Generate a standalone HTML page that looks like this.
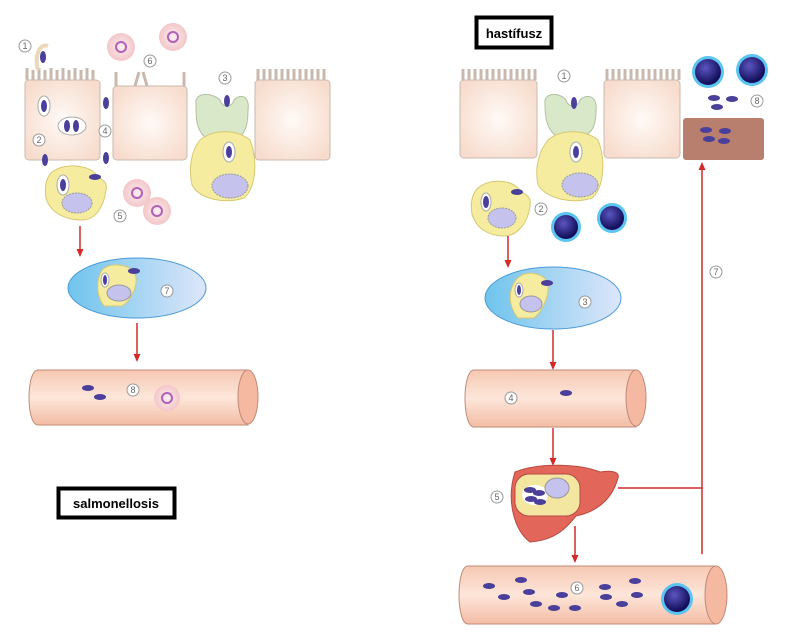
<!DOCTYPE html>
<html><head><meta charset="utf-8"><style>
body{margin:0;background:#fff;width:796px;height:636px;overflow:hidden}
svg{display:block}
text{font-family:"Liberation Sans",sans-serif}
.n{font-size:9px;fill:#666;text-anchor:middle}
.nc{fill:#fff;stroke:#999;stroke-width:1}
.bac{fill:#4a3f9a}
</style></head><body>
<svg width="796" height="636" viewBox="0 0 796 636">
<defs>
<radialGradient id="epi" cx="0.5" cy="0.5" r="0.6"><stop offset="0" stop-color="#fffaf7"/><stop offset="1" stop-color="#f7dccd"/></radialGradient>
<radialGradient id="neu" cx="0.5" cy="0.5" r="0.5"><stop offset="0" stop-color="#fbeef0"/><stop offset="1" stop-color="#f3c6c8"/></radialGradient>
<linearGradient id="lymph" x1="0" x2="1"><stop offset="0" stop-color="#6fc4ec"/><stop offset="1" stop-color="#dde6fa"/></linearGradient>
<linearGradient id="tube" x1="0" y1="0" x2="0" y2="1"><stop offset="0" stop-color="#f6c8b2"/><stop offset="0.5" stop-color="#fde6da"/><stop offset="1" stop-color="#f3bca4"/></linearGradient>
<radialGradient id="sph" cx="0.4" cy="0.35" r="0.6"><stop offset="0" stop-color="#5b56c0"/><stop offset="1" stop-color="#140f5c"/></radialGradient>
<marker id="ar" markerUnits="userSpaceOnUse" markerWidth="8" markerHeight="8" refX="6" refY="4" orient="auto"><path d="M0,0.5 L8,4 L0,7.5 z" fill="#d42a2a"/></marker>
</defs>

<!-- LEFT PANEL -->
<g>
<g>
<rect x="25" y="80" width="75" height="80" rx="4" fill="url(#epi)" stroke="#c9b8ae"/>
<path d="M27,80 v-12 M33,80 v-10 M39,80 v-12 M45,80 v-10 M51,80 v-12 M57,80 v-10 M63,80 v-12 M69,80 v-10 M75,80 v-12 M81,80 v-10 M87,80 v-12 M93,80 v-10" stroke="#c9b8ae" stroke-width="3" fill="none"/>
<path d="M38,70 C34,55 40,43 48,46" stroke="#ead8b8" stroke-width="4" fill="none"/>
<ellipse cx="44" cy="106" rx="6" ry="10" fill="#fff" stroke="#aaa"/><ellipse cx="44" cy="106" rx="3" ry="6" class="bac"/>
<ellipse cx="72" cy="126" rx="14" ry="9" fill="#fff" stroke="#aaa"/><ellipse cx="67" cy="126" rx="3" ry="6" class="bac"/><ellipse cx="76" cy="126" rx="3" ry="6" class="bac"/>
<ellipse cx="43" cy="57" rx="3" ry="6" class="bac"/>
<ellipse cx="45" cy="160" rx="3" ry="6" class="bac"/>
</g>
<ellipse cx="106" cy="103" rx="3" ry="6" class="bac"/><ellipse cx="106" cy="158" rx="3" ry="6" class="bac"/>
<g>
<rect x="113" y="86" width="74" height="74" rx="4" fill="url(#epi)" stroke="#c9b8ae"/>
<path d="M116,86 v-14 M184,86 v-14 M135,86 l4,-14 M147,86 l-4,-14" stroke="#c9b8ae" stroke-width="3" fill="none"/>
</g>
<g>
<rect x="255" y="80" width="75" height="80" rx="4" fill="url(#epi)" stroke="#c9b8ae"/>
<path d="M258,80 v-11 M264,80 v-11 M270,80 v-11 M276,80 v-11 M282,80 v-11 M288,80 v-11 M294,80 v-11 M300,80 v-11 M306,80 v-11 M312,80 v-11 M318,80 v-11 M324,80 v-11" stroke="#c9b8ae" stroke-width="3" fill="none"/>
</g>
<path d="M196,104 C194,92 212,92 220,100 C222,108 232,108 234,100 C242,92 250,98 248,110 C248,128 244,138 232,138 L206,138 C196,130 196,118 196,104z" fill="#d8e8c8" stroke="#b0c0a0"/>
<ellipse cx="227" cy="101" rx="3" ry="6" class="bac"/>
<path d="M200,140 C215,128 238,130 250,140 C258,160 256,188 244,198 C226,204 200,200 192,185 C188,166 192,150 200,140z" fill="#f5eca0" stroke="#d6c870"/>
<ellipse cx="229" cy="152" rx="6" ry="10" fill="#fff" stroke="#aaa"/><ellipse cx="229" cy="152" rx="3" ry="6" class="bac"/>
<ellipse cx="230" cy="186" rx="18" ry="12" fill="#c5c3ee" stroke="#999" stroke-dasharray="2,1"/>
<path d="M52,172 C66,162 86,166 94,172 C100,180 108,180 106,190 C104,206 96,220 82,220 C64,220 50,212 46,198 C44,186 46,178 52,172z" fill="#f5eca0" stroke="#d6c870"/>
<ellipse cx="63" cy="185" rx="6" ry="10" fill="#fff" stroke="#aaa"/><ellipse cx="63" cy="185" rx="3" ry="6" class="bac"/>
<ellipse cx="95" cy="177" rx="6" ry="3" class="bac"/>
<ellipse cx="77" cy="203" rx="15" ry="10" fill="#c5c3ee" stroke="#999" stroke-dasharray="2,1"/>
<g>
<circle cx="121" cy="47" r="14" fill="url(#neu)"/><circle cx="121" cy="47" r="5" fill="none" stroke="#b060b8" stroke-width="2"/>
<circle cx="173" cy="37" r="14" fill="url(#neu)"/><circle cx="173" cy="37" r="5" fill="none" stroke="#b060b8" stroke-width="2"/>
<circle cx="137" cy="193" r="14" fill="url(#neu)"/><circle cx="137" cy="193" r="5" fill="none" stroke="#b060b8" stroke-width="2"/>
<circle cx="157" cy="211" r="14" fill="url(#neu)"/><circle cx="157" cy="211" r="5" fill="none" stroke="#b060b8" stroke-width="2"/>
</g>
<line x1="80" y1="226" x2="80" y2="255" stroke="#d42a2a" stroke-width="1.5" marker-end="url(#ar)"/>
<ellipse cx="137" cy="288" rx="69" ry="30" fill="url(#lymph)" stroke="#4a9ad8"/>
<path d="M102,270 C110,262 128,264 134,272 C140,282 132,300 122,306 L104,306 C96,296 96,280 102,270z" fill="#f5eca0" stroke="#d6c870"/>
<ellipse cx="105" cy="280" rx="4" ry="7" fill="#fff" stroke="#aaa"/><ellipse cx="105" cy="280" rx="2" ry="5" class="bac"/>
<ellipse cx="134" cy="271" rx="6" ry="3" class="bac"/>
<ellipse cx="119" cy="293" rx="12" ry="8" fill="#c5c3ee" stroke="#999"/>
<line x1="137" y1="323" x2="137" y2="360" stroke="#d42a2a" stroke-width="1.5" marker-end="url(#ar)"/>
<g>
<path d="M38,370 H248 V425 H38 C26,425 26,370 38,370z" fill="url(#tube)" stroke="#c08a78"/>
<ellipse cx="248" cy="397" rx="10" ry="27" fill="#f5b8a0" stroke="#c08a78"/>
<ellipse cx="88" cy="388" rx="6" ry="3" class="bac"/><ellipse cx="100" cy="397" rx="6" ry="3" class="bac"/>
<circle cx="167" cy="398" r="13" fill="url(#neu)"/><circle cx="167" cy="398" r="5" fill="none" stroke="#b060b8" stroke-width="2"/>
</g>
<g>
<rect x="58.5" y="488.5" width="116" height="29" fill="#fff" stroke="#000" stroke-width="4"/>
<text x="116" y="508" font-size="13" font-weight="bold" text-anchor="middle">salmonellosis</text>
</g>
<g>
<circle cx="25" cy="46" r="6" class="nc"/><text x="25" y="49" class="n">1</text>
<circle cx="39" cy="140" r="6" class="nc"/><text x="39" y="143" class="n">2</text>
<circle cx="225" cy="78" r="6" class="nc"/><text x="225" y="81" class="n">3</text>
<circle cx="105" cy="131" r="6" class="nc"/><text x="105" y="134" class="n">4</text>
<circle cx="120" cy="216" r="6" class="nc"/><text x="120" y="219" class="n">5</text>
<circle cx="150" cy="61" r="6" class="nc"/><text x="150" y="64" class="n">6</text>
<circle cx="167" cy="291" r="6" class="nc"/><text x="167" y="294" class="n">7</text>
<circle cx="133" cy="390" r="6" class="nc"/><text x="133" y="393" class="n">8</text>
</g>
</g>

<!-- RIGHT PANEL -->
<g>
<g>
<rect x="476.5" y="17.5" width="75" height="30" fill="#fff" stroke="#000" stroke-width="4"/>
<text x="514" y="38" font-size="13" font-weight="bold" text-anchor="middle">hastífusz</text>
</g>
<rect x="460" y="80" width="77" height="78" rx="4" fill="url(#epi)" stroke="#c9b8ae"/>
<path d="M463,80 v-11 M469,80 v-11 M475,80 v-11 M481,80 v-11 M487,80 v-11 M493,80 v-11 M499,80 v-11 M505,80 v-11 M511,80 v-11 M517,80 v-11 M523,80 v-11 M529,80 v-11 M535,80 v-11" stroke="#c9b8ae" stroke-width="3" fill="none"/>
<rect x="604" y="80" width="76" height="78" rx="4" fill="url(#epi)" stroke="#c9b8ae"/>
<path d="M607,80 v-11 M613,80 v-11 M619,80 v-11 M625,80 v-11 M631,80 v-11 M637,80 v-11 M643,80 v-11 M649,80 v-11 M655,80 v-11 M661,80 v-11 M667,80 v-11 M673,80 v-11 M679,80 v-11" stroke="#c9b8ae" stroke-width="3" fill="none"/>
<path d="M545,104 C543,92 560,92 566,100 C568,108 578,108 580,100 C588,92 598,98 596,110 C596,126 592,134 582,136 L556,136 C546,128 545,116 545,104z" fill="#d8e8c8" stroke="#b0c0a0"/>
<ellipse cx="574" cy="103" rx="3" ry="6" class="bac"/>
<path d="M548,140 C562,128 586,130 598,140 C606,160 604,188 592,198 C574,204 548,200 538,185 C534,166 540,150 548,140z" fill="#f5eca0" stroke="#d6c870"/>
<ellipse cx="576" cy="152" rx="6" ry="10" fill="#fff" stroke="#aaa"/><ellipse cx="576" cy="152" rx="3" ry="6" class="bac"/>
<ellipse cx="580" cy="185" rx="18" ry="12" fill="#c5c3ee" stroke="#999" stroke-dasharray="2,1"/>
<path d="M478,188 C490,178 510,180 518,188 C524,196 532,194 530,206 C528,222 518,236 504,236 C488,236 476,228 472,214 C470,202 472,194 478,188z" fill="#f5eca0" stroke="#d6c870"/>
<ellipse cx="486" cy="202" rx="5" ry="9" fill="#fff" stroke="#aaa"/><ellipse cx="486" cy="202" rx="3" ry="6" class="bac"/>
<ellipse cx="517" cy="192" rx="6" ry="3" class="bac"/>
<ellipse cx="502" cy="218" rx="14" ry="10" fill="#c5c3ee" stroke="#999" stroke-dasharray="2,1"/>
<g>
<circle cx="708" cy="72" r="16" fill="#5bc4f0"/><circle cx="708" cy="72" r="13" fill="url(#sph)"/>
<circle cx="752" cy="70" r="16" fill="#5bc4f0"/><circle cx="752" cy="70" r="13" fill="url(#sph)"/>
<circle cx="566" cy="227" r="15" fill="#5bc4f0"/><circle cx="566" cy="227" r="12" fill="url(#sph)"/>
<circle cx="612" cy="218" r="15" fill="#5bc4f0"/><circle cx="612" cy="218" r="12" fill="url(#sph)"/>
</g>
<ellipse cx="714" cy="98" rx="6" ry="3" class="bac"/><ellipse cx="732" cy="99" rx="6" ry="3" class="bac"/><ellipse cx="717" cy="107" rx="6" ry="3" class="bac"/>
<rect x="683" y="118" width="81" height="42" rx="3" fill="#b87e6e"/>
<ellipse cx="706" cy="130" rx="6" ry="3" class="bac"/><ellipse cx="725" cy="131" rx="6" ry="3" class="bac"/><ellipse cx="709" cy="139" rx="6" ry="3" class="bac"/><ellipse cx="724" cy="141" rx="6" ry="3" class="bac"/>
<line x1="508" y1="236" x2="508" y2="266" stroke="#d42a2a" stroke-width="1.5" marker-end="url(#ar)"/>
<ellipse cx="553" cy="298" rx="68" ry="31" fill="url(#lymph)" stroke="#4a9ad8"/>
<path d="M516,280 C524,270 540,272 546,280 C552,290 544,310 534,318 L518,318 C508,306 508,290 516,280z" fill="#f5eca0" stroke="#d6c870"/>
<ellipse cx="519" cy="290" rx="4" ry="7" fill="#fff" stroke="#aaa"/><ellipse cx="519" cy="290" rx="2" ry="5" class="bac"/>
<ellipse cx="547" cy="283" rx="6" ry="3" class="bac"/>
<ellipse cx="531" cy="304" rx="11" ry="8" fill="#c5c3ee" stroke="#999"/>
<line x1="553" y1="330" x2="553" y2="368" stroke="#d42a2a" stroke-width="1.5" marker-end="url(#ar)"/>
<g>
<path d="M474,370 H636 V427 H474 C462,427 462,370 474,370z" fill="url(#tube)" stroke="#c08a78"/>
<ellipse cx="636" cy="398" rx="10" ry="28" fill="#f5b8a0" stroke="#c08a78"/>
<ellipse cx="566" cy="393" rx="6" ry="3" class="bac"/>
</g>
<line x1="553" y1="428" x2="553" y2="464" stroke="#d42a2a" stroke-width="1.5" marker-end="url(#ar)"/>
<g>
<path d="M515,472 C540,462 580,464 600,472 C612,470 620,472 618,478 C612,500 596,512 576,516 C566,528 556,540 530,542 C514,530 506,500 515,472z" fill="#e2665a" stroke="#b84a40"/>
<rect x="515" y="474" width="65" height="42" rx="14" fill="#f2e6a0" stroke="#b84a40"/>
<ellipse cx="535" cy="495" rx="13" ry="10" fill="#fff"/>
<ellipse cx="530" cy="490" rx="6" ry="3" class="bac"/><ellipse cx="539" cy="493" rx="6" ry="3" class="bac"/><ellipse cx="531" cy="499" rx="6" ry="3" class="bac"/><ellipse cx="540" cy="502" rx="6" ry="3" class="bac"/>
<ellipse cx="557" cy="488" rx="12" ry="10" fill="#c5c3ee" stroke="#999"/>
</g>
<line x1="575" y1="526" x2="575" y2="561" stroke="#d42a2a" stroke-width="1.5" marker-end="url(#ar)"/>
<g>
<path d="M468,566 H716 V624 H468 C456,624 456,566 468,566z" fill="url(#tube)" stroke="#c08a78"/>
<ellipse cx="716" cy="595" rx="11" ry="29" fill="#f5b8a0" stroke="#c08a78"/>
<ellipse cx="489" cy="586" rx="6" ry="3" class="bac"/><ellipse cx="521" cy="580" rx="6" ry="3" class="bac"/><ellipse cx="504" cy="597" rx="6" ry="3" class="bac"/><ellipse cx="529" cy="592" rx="6" ry="3" class="bac"/>
<ellipse cx="536" cy="604" rx="6" ry="3" class="bac"/><ellipse cx="554" cy="608" rx="6" ry="3" class="bac"/><ellipse cx="562" cy="595" rx="6" ry="3" class="bac"/><ellipse cx="575" cy="608" rx="6" ry="3" class="bac"/>
<ellipse cx="605" cy="587" rx="6" ry="3" class="bac"/><ellipse cx="635" cy="581" rx="6" ry="3" class="bac"/><ellipse cx="606" cy="597" rx="6" ry="3" class="bac"/><ellipse cx="637" cy="595" rx="6" ry="3" class="bac"/><ellipse cx="622" cy="604" rx="6" ry="3" class="bac"/>
<circle cx="677" cy="599" r="16" fill="#5bc4f0"/><circle cx="677" cy="599" r="13" fill="url(#sph)"/>
</g>
<path d="M618,488 H702" stroke="#d42a2a" stroke-width="1.5" fill="none"/>
<line x1="702" y1="554" x2="702" y2="164" stroke="#d42a2a" stroke-width="1.5" marker-end="url(#ar)"/>
<g>
<circle cx="564" cy="76" r="6" class="nc"/><text x="564" y="79" class="n">1</text>
<circle cx="541" cy="209" r="6" class="nc"/><text x="541" y="212" class="n">2</text>
<circle cx="585" cy="302" r="6" class="nc"/><text x="585" y="305" class="n">3</text>
<circle cx="511" cy="398" r="6" class="nc"/><text x="511" y="401" class="n">4</text>
<circle cx="497" cy="497" r="6" class="nc"/><text x="497" y="500" class="n">5</text>
<circle cx="577" cy="588" r="6" class="nc"/><text x="577" y="591" class="n">6</text>
<circle cx="716" cy="272" r="6" class="nc"/><text x="716" y="275" class="n">7</text>
<circle cx="757" cy="101" r="6" class="nc"/><text x="757" y="104" class="n">8</text>
</g>
</g>
</svg>
</body></html>
